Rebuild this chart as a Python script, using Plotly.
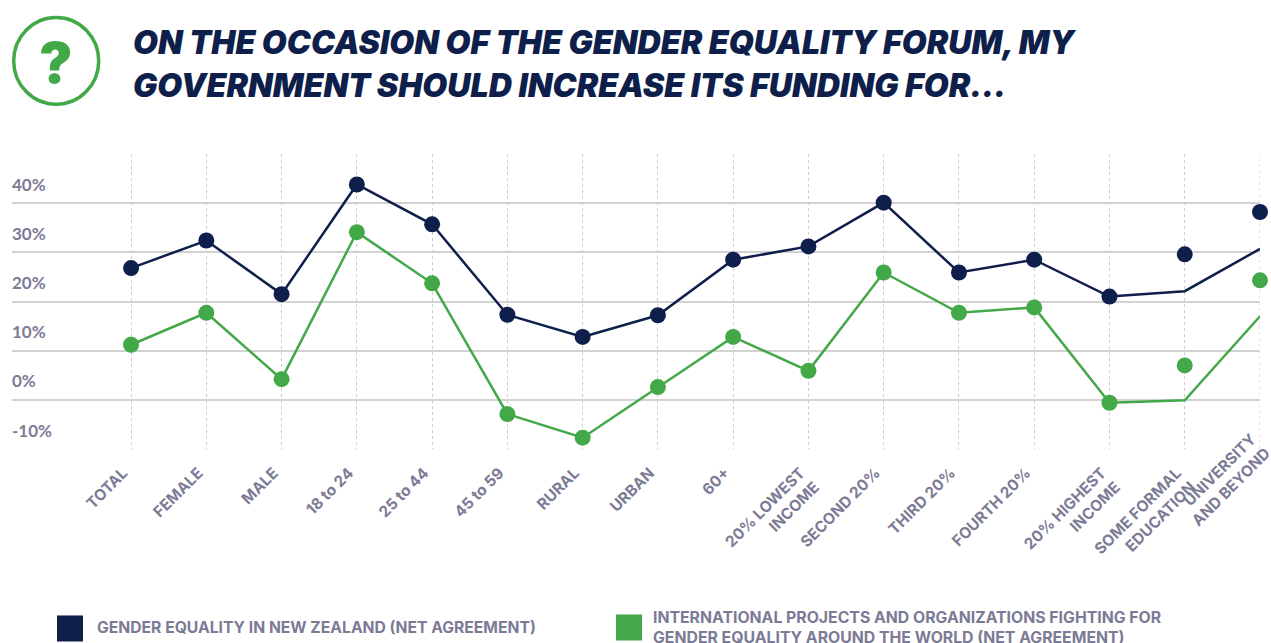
import plotly.graph_objects as go

categories = ["TOTAL", "FEMALE", "MALE", "18 to 24", "25 to 44", "45 to 59", "RURAL", "URBAN", "60+",
              "20% LOWEST<br>INCOME", "SECOND 20%", "THIRD 20%", "FOURTH 20%", "20% HIGHEST<br>INCOME",
              "SOME FORMAL<br>EDUCATION", "UNIVERSITY<br>AND BEYOND"]
positions = list(range(len(categories)))

nz_points = [26.8, 32.4, 21.5, 43.8, 35.7, 17.3, 12.8, 17.2, 28.5, 31.2, 40.1, 25.9, 28.5, 21.0, 29.6, 38.2]
nz_line = [26.8, 32.4, 21.5, 43.8, 35.7, 17.3, 12.8, 17.2, 28.5, 31.2, 40.1, 25.9, 28.5, 21.0, 22.1, 30.7]
intl_points = [11.2, 17.7, 4.2, 34.1, 23.7, -2.9, -7.7, 2.6, 12.8, 5.9, 25.9, 17.7, 18.8, -0.6, 7.0, 24.3]
intl_line = [11.2, 17.7, 4.2, 34.1, 23.7, -2.9, -7.7, 2.6, 12.8, 5.9, 25.9, 17.7, 18.8, -0.6, -0.1, 17.0]

y_ticks = [-10, 0, 10, 20, 30, 40]
y_labels = ["-10%", "0%", "10%", "20%", "30%", "40%"]

NAVY = "#0f1f4b"
GREEN = "#43a848"
GREY = "#7c7b96"
GRID = "#d2d2d2"
W, H = 1271, 643
L, R, T, B = 12, 11, 154, 194.3
TICK_FONT = dict(family="Inter", size=15.4, color=GREY, weight=700)


def px(x):
    return (x - L) / (W - L - R)


def py(y):
    return (H - B - y) / (H - T - B)


fig = go.Figure()
for line, pts, col in [(nz_line, nz_points, NAVY), (intl_line, intl_points, GREEN)]:
    fig.add_trace(go.Scatter(x=positions, y=line, mode="lines", line=dict(color=col, width=2.5),
                             cliponaxis=False, showlegend=False))
    fig.add_trace(go.Scatter(x=positions, y=pts, mode="markers", marker=dict(color=col, size=16),
                             cliponaxis=False, showlegend=False))

annotations = []
for v, lab in zip(y_ticks, y_labels):
    annotations.append(dict(x=0, xref="paper", y=v, yref="y", text=f"<b>{lab}</b>", showarrow=False,
                            xanchor="left", yanchor="middle", yshift=19, xshift=-2, align="left",
                            font=dict(family="Lato", size=17, color=GREY)))

# last category label sits higher than the others in the reference
annotations.append(dict(x=positions[-1], xref="x", y=-10, yref="y", text=categories[-1], showarrow=False,
                        textangle=-45, xanchor="right", yanchor="top", align="right", xshift=17, yshift=23,
                        font=TICK_FONT))


def label(x, y, text, size, color, anchor="left", style="normal", weight=700):
    annotations.append(dict(x=px(x), y=py(y), xref="paper", yref="paper", text=text, showarrow=False,
                            xanchor=anchor, yanchor="middle", align="left",
                            font=dict(family="Inter", size=size, color=color, style=style, weight=weight)))


label(130.5, 42.5, "ON THE OCCASION OF THE GENDER EQUALITY FORUM, MY", 32.2, NAVY, style="italic", weight=900)
label(130.5, 86, "GOVERNMENT SHOULD INCREASE ITS FUNDING FOR...", 32.2, NAVY, style="italic", weight=900)
label(56, 63, "?", 56, GREEN, anchor="center", weight=900)
label(95, 627, "GENDER EQUALITY IN NEW ZEALAND (NET AGREEMENT)", 15.7, GREY)
label(651, 617.5, "INTERNATIONAL PROJECTS AND ORGANIZATIONS FIGHTING FOR", 15.8, GREY)
label(651, 637.5, "GENDER EQUALITY AROUND THE WORLD (NET AGREEMENT)", 15.8, GREY)

shapes = [
    dict(type="circle", xref="paper", yref="paper", x0=px(13.7), x1=px(98.7), y0=py(104.3), y1=py(17.7),
         line=dict(color=GREEN, width=3.5)),
    dict(type="rect", xref="paper", yref="paper", x0=px(57), x1=px(83), y0=py(641), y1=py(615),
         fillcolor=NAVY, line=dict(width=0)),
    dict(type="rect", xref="paper", yref="paper", x0=px(616), x1=px(642), y0=py(640), y1=py(614),
         fillcolor=GREEN, line=dict(width=0)),
]

fig.update_layout(
    width=W, height=H, margin=dict(l=L, r=R, t=T, b=B, autoexpand=False), paper_bgcolor="white", plot_bgcolor="white",
    annotations=annotations, shapes=shapes, showlegend=False,
    xaxis=dict(range=[-1.582, 15], tickmode="array", tickvals=positions[:-1], ticktext=categories[:-1], tickangle=-45,
               showgrid=True, gridcolor="#cccccc", griddash="3px,3px", gridwidth=1, zeroline=False, showline=False,
               ticks="", ticklabeloverflow="allow", ticklabelshift=-8, ticklabelstandoff=11, automargin=False,
               tickfont=TICK_FONT),
    yaxis=dict(range=[-10, 50], tickmode="array", tickvals=y_ticks, showticklabels=False, showgrid=True, automargin=False,
               gridcolor=GRID, gridwidth=1.5, zeroline=False, showline=False, ticks=""),
)
# vertical guide at the final category, which no longer carries an axis tick
fig.add_shape(type="line", x0=positions[-1], x1=positions[-1], yref="paper", y0=0, y1=1,
              line=dict(color="#cccccc", width=1, dash="3px,3px"), layer="below")
fig.write_html("out.html", config={"displayModeBar": False}, post_script="document.body.style.margin='0';")
